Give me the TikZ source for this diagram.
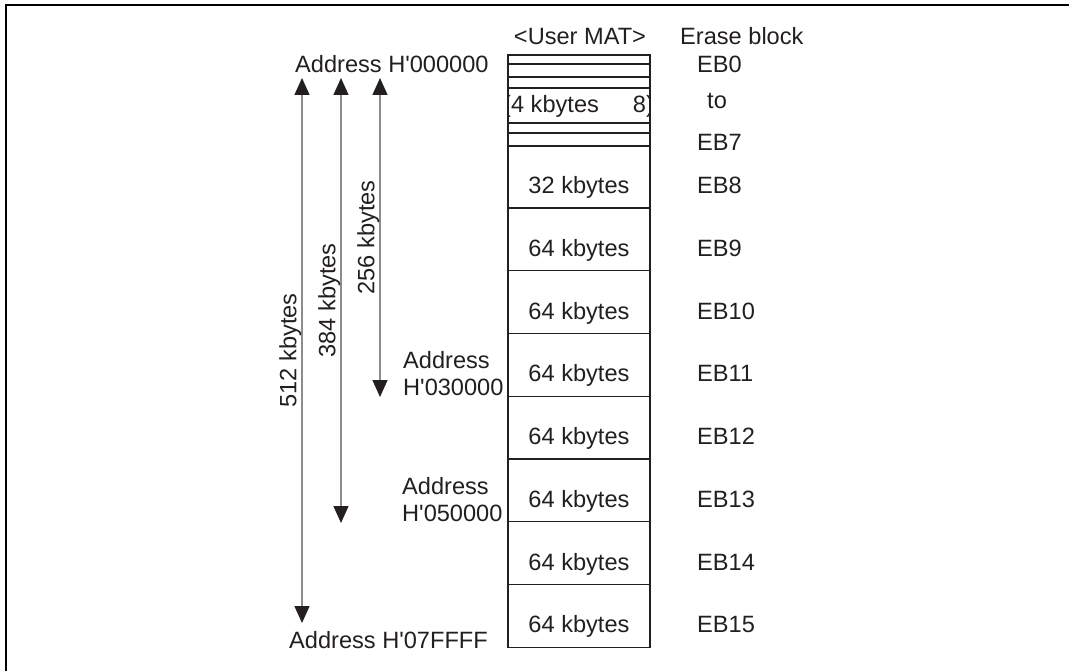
\documentclass[tikz,border=0pt]{standalone}
\usepackage{fontspec}
\newfontfamily\helv{Liberation Sans}
\usepackage{tikz}
\usetikzlibrary{arrows.meta,positioning}
\definecolor{ink}{HTML}{231F20}
\definecolor{rule}{HTML}{8C8C8C}

\begin{document}
\begin{tikzpicture}[x=1pt,y=-1pt,font=\helv\fontsize{23.6}{27}\selectfont,text=ink,
  cell/.style={draw=ink,line width=1.3pt,minimum width=142pt,inner sep=0pt,outer sep=0pt,anchor=north west},
  txt/.style={inner sep=0pt,anchor=base west},
  span/.style={draw=rule,line width=1.4pt,{Triangle[width=15pt,length=17pt,color=ink]}-{Triangle[width=15pt,length=17pt,color=ink]}},
  size/.style={midway,sloped,above,inner sep=0pt}]
\useasboundingbox (0,0) rectangle (1069,671);
\draw[line width=2.2pt] (6,5) rectangle (1090,700);
% headings
\node[anchor=base,inner sep=0pt] (mat) at (580,45) {<User MAT>};
\node[txt] (erase) at (680,45) {Erase block};
% small erase blocks EB0 to EB7
\node[cell,minimum height=9pt] (s0) at (508,55) {};
\node[cell,minimum height=13pt,below=0pt of s0] (s1) {};
\node[cell,minimum height=11pt,below=0pt of s1] (s2) {};
\node[cell,minimum height=35pt,below=0pt of s2] (s3) {};
\node[cell,minimum height=10pt,below=0pt of s3] (s4) {};
\node[cell,minimum height=13pt,below=0pt of s4] (s5) {};
\begin{scope}
  \clip (s3.north west) rectangle (s3.south east);
  \node[txt] (k0) at (503,113) {(4 kbytes\hspace{34pt}8)};
\end{scope}
\node[txt] (n0) at (697,73) {EB0};
\node[txt] (to) at (707,109) {to};
\node[txt] (n7) at (697,151) {EB7};
% large erase blocks
\node[cell,minimum height=62pt,below=0pt of s5] (eb8) {};
\node[anchor=base,inner sep=0pt] (k8) at ([yshift=-17pt]eb8.center) {32 kbytes};
\node[txt] (n8) at ([xshift=47pt,yshift=-17pt]eb8.east) {EB8};
\foreach \i [remember=\i as \prev (initially 8)] in {9,...,15}{
  \node[cell,minimum height=62.75pt,below=0pt of eb\prev] (eb\i) {};
  \node[anchor=base,inner sep=0pt] (k\i) at ([yshift=-17pt]eb\i.center) {64 kbytes};
  \node[txt] (n\i) at ([xshift=47pt,yshift=-17pt]eb\i.east) {EB\i};
}
% addresses
\node[txt] (a0) at (295,73) {Address H'000000};
\node[txt] (a7) at (289,648) {Address H'07FFFF};
\node[align=left,anchor=west,inner sep=0pt] (a3) at (403,374) {Address\\H'030000};
\node[align=left,anchor=west,inner sep=0pt] (a5) at (402,500) {Address\\H'050000};
% size arrows
\coordinate (t512) at (302,78);
\coordinate (t384) at (341,78);
\coordinate (t256) at (380,78);
\coordinate (b512) at (302,623);
\coordinate (b384) at (341,523);
\coordinate (b256) at (380,397);
\draw[span] (b512) -- (t512) node[size] {512 kbytes};
\draw[span] (b384) -- (t384) node[size] {384 kbytes};
\draw[span] (b256) -- (t256) node[size] {256 kbytes};
\end{tikzpicture}
\end{document}
